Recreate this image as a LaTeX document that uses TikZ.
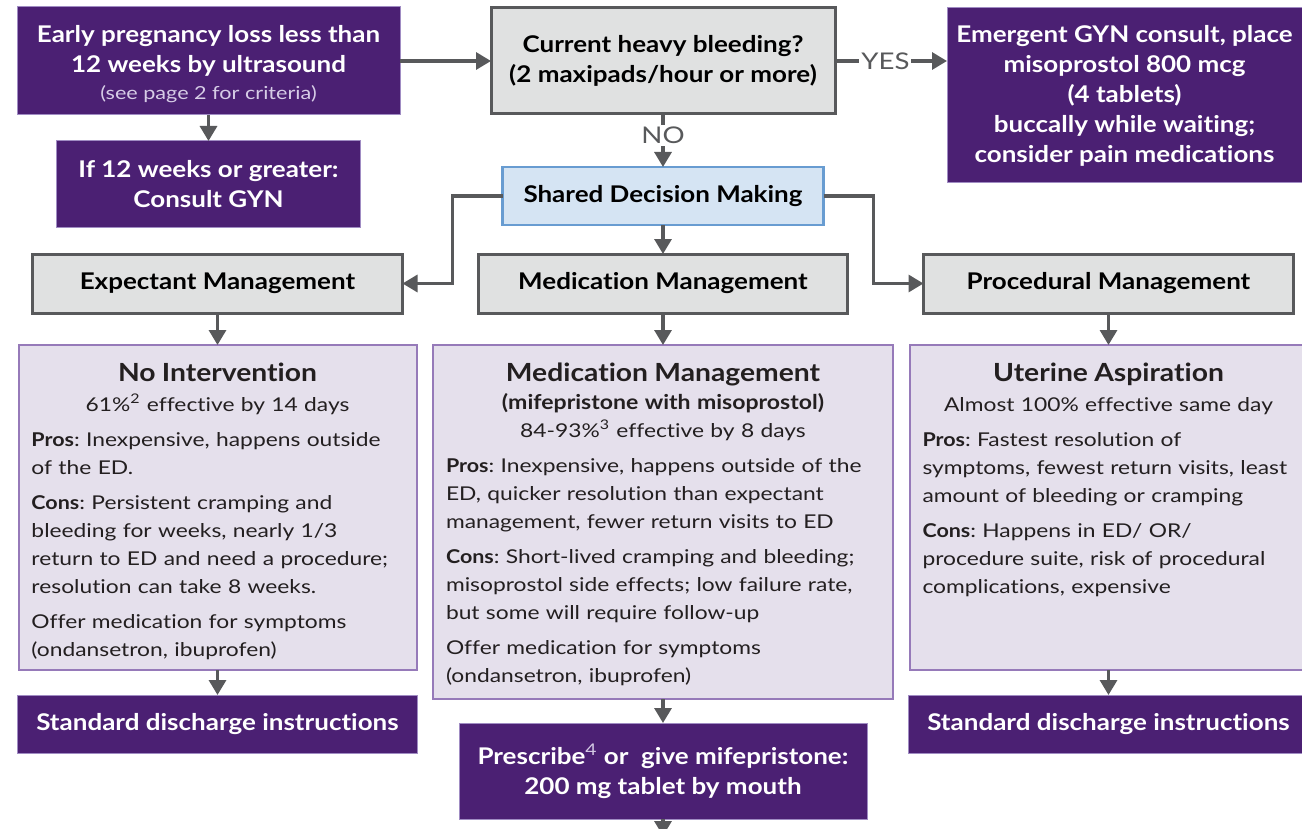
\documentclass[tikz,border=0pt]{standalone}
\usepackage{fontspec}
\setmainfont{Lato}[Ligatures=NoCommon, Contextuals=NoAlternate,
  UprightFeatures={FakeStretch=1.2, Ligatures=NoCommon, Contextuals=NoAlternate},
  BoldFeatures={FakeStretch=1.13, Ligatures=NoCommon, Contextuals=NoAlternate}]
\usetikzlibrary{arrows.meta, positioning}
\definecolor{deeppurple}{RGB}{75,32,115}
\definecolor{purpleedge}{RGB}{160,140,195}
\definecolor{lavfill}{RGB}{229,224,236}
\definecolor{lavedge}{RGB}{150,122,185}
\definecolor{greyfill}{RGB}{224,225,225}
\definecolor{greyedge}{RGB}{88,89,91}
\definecolor{bluefill}{RGB}{213,228,243}
\definecolor{blueedge}{RGB}{104,156,209}
\definecolor{arrowgrey}{RGB}{88,89,91}
\definecolor{inktext}{RGB}{35,31,32}
\definecolor{softwhite}{RGB}{214,204,230}
\newcommand{\boxfont}{\fontsize{11.5}{15}\selectfont\bfseries}
\newcommand{\ttlfont}{\fontsize{12.5}{14}\selectfont\bfseries}
\newcommand{\subfont}{\fontsize{10.2}{14}\selectfont\bfseries}
\newcommand{\bodyfont}{\fontsize{9.5}{14}\selectfont\mdseries}
\newcommand{\smallnote}{\fontsize{9}{10}\selectfont\mdseries}
\newcommand{\gapv}{\vspace{3.5pt}}
\frenchspacing

\begin{document}
\begin{tikzpicture}[
    x=0.5pt, y=-0.5pt,
    purplebox/.style={rectangle, draw=purpleedge, line width=0.5pt, fill=deeppurple, text=white, font=\boxfont, align=center, inner sep=0pt, outer sep=0pt},
    greybox/.style={rectangle, draw=greyedge, line width=1.5pt, fill=greyfill, text=black, font=\boxfont, align=center, inner sep=0pt, outer sep=0pt},
    bluebox/.style={rectangle, draw=blueedge, line width=1.2pt, fill=bluefill, text=black, font=\boxfont, align=center, inner sep=0pt, outer sep=0pt},
    lavbox/.style={rectangle, draw=lavedge, line width=1pt, fill=lavfill, text=inktext, font=\bodyfont, align=left, inner xsep=6.5pt, inner ysep=0pt, outer sep=0pt, text height=18pt},
    arrow/.style={-{Triangle[width=8.5pt,length=7.5pt]}, line width=1.6pt, draw=arrowgrey},
    answer/.style={fill=white, text=arrowgrey, font=\fontsize{11.5}{12}\selectfont, inner sep=1pt}
]
    \useasboundingbox (0,0) rectangle (1302,829);

    % Entry
    \node[purplebox, minimum width=191.5pt, minimum height=54pt] (early) at (208.5,61)
        {\rule{0pt}{12pt}Early pregnancy loss less than\\ 12 weeks by ultrasound\\[-1.5pt] {\smallnote\color{softwhite}(see page 2 for criteria)}};
    \node[purplebox, minimum width=152pt, minimum height=43pt, below=13pt of early] (over12)
        {If 12 weeks or greater:\\ Consult GYN};

    % Bleeding check
    \node[greybox, minimum width=172pt, minimum height=53pt, right=45.5pt of early] (bleeding)
        {Current heavy bleeding?\\ (2 maxipads/hour or more)};
    \node[purplebox, minimum width=177.5pt, minimum height=87.5pt, right=56pt of bleeding.north east, anchor=north west] (emergent)
        {Emergent GYN consult, place\\ misoprostol 800 mcg\\ (4 tablets)\\ buccally while waiting;\\ consider pain medications};
    \node[bluebox, minimum width=160.5pt, minimum height=29pt, below=26.5pt of bleeding] (shared)
        {Shared Decision Making};

    % Three options
    \node[greybox, minimum width=184.5pt, minimum height=29.5pt, below=14.5pt of shared] (medgrey)
        {Medication Management};
    \node[greybox, minimum width=185pt, minimum height=29.5pt, left=38pt of medgrey] (expgrey)
        {Expectant Management};
    \node[greybox, minimum width=185pt, minimum height=29.5pt, right=38pt of medgrey] (procgrey)
        {Procedural Management};

    % Details
    \node[lavbox, text width=186pt, text depth=144.5pt, below=16pt of expgrey] (nointerv)
        {{\centering\ttlfont No Intervention\\[1pt]
         \bodyfont 61\%\textsuperscript{2} effective by 14 days\par}
         \gapv\textbf{Pros}: Inexpensive, happens outside\\ of the ED.\par
         \gapv\textbf{Cons}: Persistent cramping and\\ bleeding for weeks, nearly 1/3\\ return to ED and need a procedure;\\ resolution can take 8 weeks.\par
         \gapv Offer medication for symptoms\\ (ondansetron, ibuprofen)};
    \node[lavbox, text width=217pt, text depth=159pt, below=16pt of medgrey] (medlav)
        {{\centering\ttlfont Medication Management\\
         \subfont (mifepristone with misoprostol)\\
         \bodyfont 84-93\%\textsuperscript{3} effective by 8 days\par}
         \gapv\textbf{Pros}: Inexpensive, happens outside of the\\ ED, quicker resolution than expectant\\ management, fewer return visits to ED\par
         \gapv\textbf{Cons}: Short-lived cramping and bleeding;\\ misoprostol side effects; low failure rate,\\ but some will require follow-up\par
         \gapv Offer medication for symptoms\\ (ondansetron, ibuprofen)};
    \node[lavbox, text width=186pt, text depth=144.5pt, below=16pt of procgrey] (aspiration)
        {{\centering\ttlfont Uterine Aspiration\\[1pt]
         \bodyfont Almost 100\% effective same day\par}
         \gapv\textbf{Pros}: Fastest resolution of\\ symptoms, fewest return visits, least\\ amount of bleeding or cramping\par
         \gapv\textbf{Cons}: Happens in ED/ OR/\\ procedure suite, risk of procedural\\ complications, expensive};

    % Next steps
    \node[purplebox, minimum width=200pt, minimum height=29pt, below=12.5pt of nointerv] (dischargeL)
        {Standard discharge instructions};
    \node[purplebox, minimum width=200pt, minimum height=29pt, below=12.5pt of aspiration] (dischargeR)
        {Standard discharge instructions};
    \node[purplebox, minimum width=204pt, minimum height=48pt, below=12pt of medlav] (prescribe)
        {Prescribe{\mdseries\color{softwhite}\textsuperscript{4}} or\ \ give mifepristone:\\ 200 mg tablet by mouth};
    \coordinate[below=8.5pt of prescribe] (nextstep);

    % Arrows
    \draw[arrow] (early) -- (over12);
    \draw[arrow] (early) -- (bleeding);
    \draw[arrow] (bleeding.east) -- node[answer, pos=0.45] {YES} (bleeding.east -| emergent.west);
    \draw[arrow] (bleeding) -- node[answer, pos=0.4] {NO} (shared);
    \draw[arrow] (shared.west) -- ++(-25pt,0) |- (expgrey.east);
    \draw[arrow] (shared.east) -- ++(25pt,0) |- (procgrey.west);
    \draw[arrow] (shared) -- (medgrey);
    \draw[arrow] (expgrey) -- (nointerv);
    \draw[arrow] (medgrey) -- (medlav);
    \draw[arrow] (procgrey) -- (aspiration);
    \draw[arrow] (nointerv) -- (dischargeL);
    \draw[arrow] (aspiration) -- (dischargeR);
    \draw[arrow] (medlav) -- (prescribe);
    \draw[arrow] (prescribe) -- (nextstep);

\end{tikzpicture}
\end{document}
